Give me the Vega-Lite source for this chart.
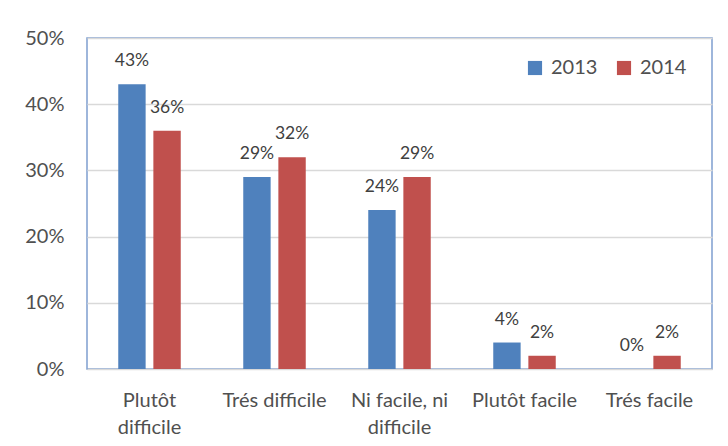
{
  "$schema": "https://vega.github.io/schema/vega-lite/v6.json",
  "autosize": "none",
  "width": 625,
  "height": 331,
  "padding": {"left": 87, "top": 38, "right": 16, "bottom": 77},
  "background": "#ffffff",
  "config": {
    "view": {"stroke": "#7F9FCF", "strokeWidth": 1.5},
    "font": "Lato"
  },
  "data": {
    "values": [
      {"cat": "Plutôt difficile", "year": "2013", "v": 0.43},
      {"cat": "Plutôt difficile", "year": "2014", "v": 0.36},
      {"cat": "Trés difficile", "year": "2013", "v": 0.29},
      {"cat": "Trés difficile", "year": "2014", "v": 0.32},
      {"cat": "Ni facile, ni difficile", "year": "2013", "v": 0.24},
      {"cat": "Ni facile, ni difficile", "year": "2014", "v": 0.29},
      {"cat": "Plutôt facile", "year": "2013", "v": 0.04},
      {"cat": "Plutôt facile", "year": "2014", "v": 0.02},
      {"cat": "Trés facile", "year": "2013", "v": 0.0},
      {"cat": "Trés facile", "year": "2014", "v": 0.02}
    ]
  },
  "encoding": {
    "x": {
      "field": "cat", "type": "nominal", "sort": null,
      "scale": {"paddingInner": 0.5, "paddingOuter": 0.25},
      "axis": {
        "title": null, "labelAngle": 0, "ticks": false, "domain": false,
        "labelFontSize": 20, "labelColor": "#505050", "labelPadding": 21,
        "labelLineHeight": 27, "labelBaseline": "top", "labelOverlap": false, "labelLimit": 200,
        "labelExpr": "datum.label == 'Plutôt difficile' ? ['Plutôt', 'difficile'] : datum.label == 'Ni facile, ni difficile' ? ['Ni facile, ni', 'difficile'] : datum.label"
      }
    },
    "xOffset": {"field": "year", "type": "nominal", "scale": {"paddingInner": 0.22}},
    "y": {
      "field": "v", "type": "quantitative",
      "scale": {"domain": [0, 0.5]},
      "axis": {
        "title": null, "format": ".0%", "values": [0, 0.1, 0.2, 0.3, 0.4, 0.5],
        "labelOverlap": false,
        "ticks": false, "domain": false, "gridColor": "#D9D9D9", "gridWidth": 1.5,
        "labelFontSize": 20, "labelColor": "#505050", "labelPadding": 23
      }
    }
  },
  "layer": [
    {
      "mark": {"type": "bar"},
      "encoding": {
        "color": {
          "field": "year", "type": "nominal",
          "scale": {"domain": ["2013", "2014"], "range": ["#4F81BD", "#C0504D"]},
          "legend": {
            "title": null, "orient": "none", "direction": "horizontal",
            "legendX": 438, "legendY": 20, "symbolType": "square", "symbolSize": 200,
            "labelFontSize": 20, "labelColor": "#505050", "columnPadding": 16,
            "symbolStrokeWidth": 0, "labelOffset": 6
          }
        }
      }
    },
    {
      "mark": {"type": "text", "dy": -14, "fontSize": 17.5, "color": "#404040", "baseline": "bottom"},
      "encoding": {"text": {"field": "v", "type": "quantitative", "format": ".0%"}}
    }
  ]
}
